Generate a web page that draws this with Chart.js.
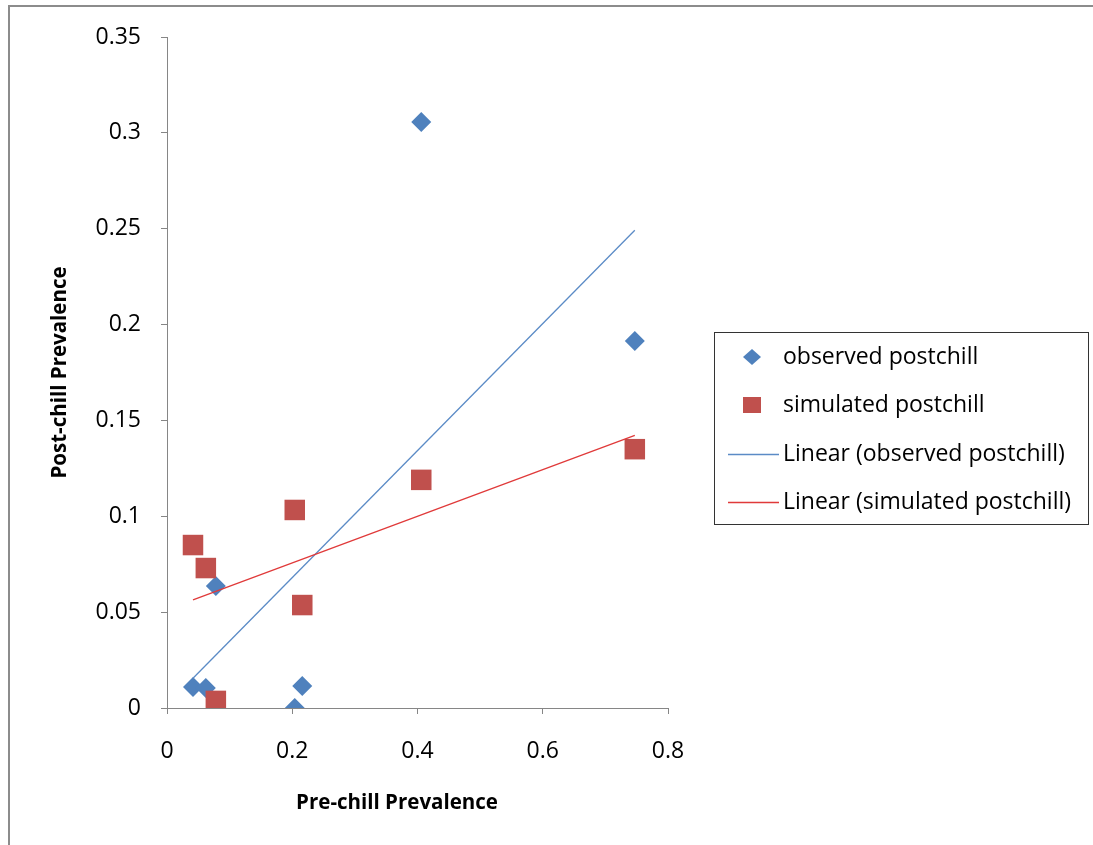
<!DOCTYPE html>
<html lang="en">
<head>
<meta charset="UTF-8">
<title>Pre-chill vs Post-chill Prevalence</title>
<script src="https://cdn.jsdelivr.net/npm/chart.js"></script>
<style>
    html, body { margin: 0; padding: 0; background: #fff; }
    #wrap { position: relative; width: 1093px; height: 845px; }
</style>
</head>
<body>
<div id="wrap"><canvas id="scatterChart" width="1093" height="845"></canvas></div>
<script>
    // data
    var preChill = [0.0415, 0.062, 0.078, 0.204, 0.216, 0.406, 0.747];
    var observedPost = [0.011, 0.0104, 0.0636, 0.0, 0.0115, 0.3057, 0.1914];
    var simulatedPost = [0.085, 0.073, 0.0037, 0.1033, 0.0537, 0.119, 0.135];
    var seriesNames = ['observed postchill', 'simulated postchill',
                       'Linear (observed postchill)', 'Linear (simulated postchill)'];
    var xTicks = [0, 0.2, 0.4, 0.6, 0.8];
    var yTicks = [0, 0.05, 0.1, 0.15, 0.2, 0.25, 0.3, 0.35];

    var blue = '#4F81BD';
    var red = '#C0504D';
    var blueLine = '#5b8bc6';
    var redLine = '#e03a3a';
    var axisGray = '#868686';
    var fontName = '"Open Sans", Lato, sans-serif';

    function points(xs, ys) {
        return xs.map(function (x, i) { return { x: x, y: ys[i] }; });
    }

    // least squares trend line over the data's x range
    function trend(xs, ys) {
        var n = xs.length, mx = 0, my = 0;
        for (var i = 0; i < n; i++) { mx += xs[i]; my += ys[i]; }
        mx /= n; my /= n;
        var sxy = 0, sxx = 0;
        for (var j = 0; j < n; j++) {
            sxy += (xs[j] - mx) * (ys[j] - my);
            sxx += (xs[j] - mx) * (xs[j] - mx);
        }
        var slope = sxy / sxx, icpt = my - slope * mx;
        var lo = Math.min.apply(null, xs), hi = Math.max.apply(null, xs);
        return [{ x: lo, y: icpt + slope * lo }, { x: hi, y: icpt + slope * hi }];
    }

    function fmt(v) { return String(parseFloat(Number(v).toFixed(2))); }

    var decorPlugin = {
        id: 'decor',
        afterDraw: function (chart) {
            var ctx = chart.ctx;
            var area = chart.chartArea;
            ctx.save();

            // outer frame (top and left edges only are visible)
            ctx.fillStyle = '#8c8c8c';
            ctx.fillRect(8, 5, chart.width - 8, 2);
            ctx.fillRect(8, 5, 2, chart.height - 5);

            // axis titles
            ctx.fillStyle = '#000';
            ctx.font = 'bold 20.5px ' + fontName;
            ctx.textAlign = 'center';
            ctx.textBaseline = 'middle';
            ctx.fillText('Pre-chill Prevalence', 397, 803);
            ctx.save();
            ctx.translate(60, (area.top + area.bottom) / 2);
            ctx.rotate(-Math.PI / 2);
            ctx.fillText('Post-chill Prevalence', 0, 0);
            ctx.restore();

            // legend box
            var lx = 714, ly = 332, lw = 374, lh = 192;
            ctx.strokeStyle = '#333';
            ctx.lineWidth = 1;
            ctx.strokeRect(lx + 0.5, ly + 0.5, lw, lh);
            var rows = [357, 405, 454, 502];
            ctx.font = '23px ' + fontName;
            ctx.textAlign = 'left';
            for (var i = 0; i < rows.length; i++) {
                var cy = rows[i];
                if (i === 0) {
                    ctx.fillStyle = blue;
                    ctx.beginPath();
                    ctx.moveTo(752, cy - 8); ctx.lineTo(761, cy);
                    ctx.lineTo(752, cy + 8); ctx.lineTo(743, cy);
                    ctx.closePath(); ctx.fill();
                } else if (i === 1) {
                    ctx.fillStyle = red;
                    ctx.fillRect(743, cy - 8, 18, 16);
                } else {
                    ctx.strokeStyle = i === 2 ? blueLine : redLine;
                    ctx.lineWidth = 1.3;
                    ctx.beginPath();
                    ctx.moveTo(728, cy + 0.5); ctx.lineTo(779, cy + 0.5);
                    ctx.stroke();
                }
                ctx.fillStyle = '#000';
                ctx.fillText(seriesNames[i], 783, cy);
            }
            ctx.restore();
        }
    };

    var ctx = document.getElementById('scatterChart').getContext('2d');
    window.myChart = new Chart(ctx, {
        type: 'scatter',
        data: {
            datasets: [{
                label: seriesNames[0],
                data: points(preChill, observedPost),
                pointStyle: 'rectRot',
                pointRadius: 10,
                pointHoverRadius: 10,
                backgroundColor: blue,
                borderColor: blue,
                borderWidth: 0,
                order: 3
            }, {
                label: seriesNames[1],
                data: points(preChill, simulatedPost),
                pointStyle: 'rect',
                pointRadius: 14.5,
                pointHoverRadius: 14.5,
                backgroundColor: red,
                borderColor: red,
                borderWidth: 0,
                order: 2
            }, {
                label: seriesNames[2],
                data: trend(preChill, observedPost),
                showLine: true,
                pointRadius: 0,
                borderColor: blueLine,
                borderWidth: 1.3,
                order: 1
            }, {
                label: seriesNames[3],
                data: trend(preChill, simulatedPost),
                showLine: true,
                pointRadius: 0,
                borderColor: redLine,
                borderWidth: 1.3,
                order: 0
            }]
        },
        options: {
            responsive: false,
            animation: false,
            devicePixelRatio: 1,
            layout: { padding: { left: 0, top: 37, right: 425, bottom: 0 } },
            plugins: {
                legend: { display: false },
                tooltip: { enabled: false }
            },
            scales: {
                x: {
                    type: 'linear',
                    min: 0, max: 0.8,
                    afterFit: function (s) { s.height = 137; },
                    afterBuildTicks: function (s) { s.ticks = xTicks.map(function (v) { return { value: v }; }); },
                    grid: { drawOnChartArea: false, color: axisGray, tickLength: 6 },
                    border: { color: axisGray, width: 1 },
                    ticks: {
                        color: '#000', padding: 24,
                        font: { family: fontName, size: 23 },
                        callback: function (v) { return fmt(v); }
                    }
                },
                y: {
                    type: 'linear',
                    min: 0, max: 0.35,
                    afterFit: function (s) { s.width = 167; },
                    afterBuildTicks: function (s) { s.ticks = yTicks.map(function (v) { return { value: v }; }); },
                    grid: { drawOnChartArea: false, color: axisGray, tickLength: 6 },
                    border: { color: axisGray, width: 1 },
                    ticks: {
                        color: '#000', padding: 20,
                        font: { family: fontName, size: 23 },
                        callback: function (v) { return fmt(v); }
                    }
                }
            }
        },
        plugins: [decorPlugin]
    });
</script>
</body>
</html>
